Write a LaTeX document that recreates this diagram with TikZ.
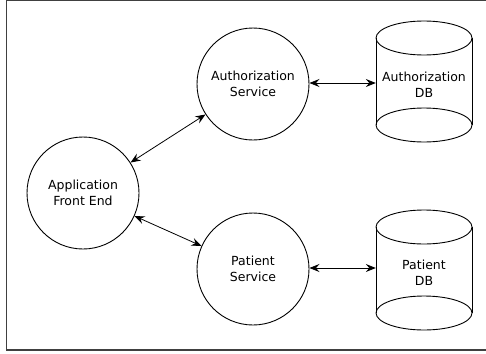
\documentclass[tikz,border=0pt]{standalone}
\usepackage{fontspec}
\setmainfont{DejaVu Sans}
\usetikzlibrary{arrows.meta}
\begin{document}
\begin{tikzpicture}[x=1pt,y=-1pt,
  lbl/.style={align=center,inner sep=0pt,font=\fontsize{12.5}{16}\selectfont},
  svc/.style={circle,draw,line width=0.9pt,minimum size=112pt,inner sep=0pt,lbl},
  dbanchor/.style={rectangle,minimum width=96pt,minimum height=87pt,inner sep=0pt},
  tip/.style={Stealth[length=10pt,width=8pt,inset=3.5pt]},
  link/.style={line width=0.8pt,{Stealth[length=10pt,width=8pt,inset=3.5pt]}-{Stealth[length=10pt,width=8pt,inset=3.5pt]}},
  cyl/.style={line width=0.9pt}]
\useasboundingbox (0,0) rectangle (486,353);
\begin{scope}
\clip (0,0) rectangle (486,353);
\draw[line width=1.6pt,draw=black!75] (6.5,0.5) rectangle (495,350);
\end{scope}
% nodes
\node[svc] (fe) at (83,193) {Application\\Front End};
\node[svc] (auth) at (253,84) {Authorization\\Service};
\node[svc] (pat) at (253,269) {Patient\\Service};
% cylinders
\draw[cyl] (376,38) -- (376,125) (472,38) -- (472,125);
\draw[cyl] (424,38) ellipse [x radius=48, y radius=17];
\draw[cyl] (424,125) ellipse [x radius=48, y radius=17];
\node[dbanchor] (adb) at (424,83) {};
\node[lbl] (adbtext) at (424,85) {Authorization\\DB};
\draw[cyl] (376,227) -- (376,313) (472,227) -- (472,313);
\draw[cyl] (424,227) ellipse [x radius=48, y radius=17];
\draw[cyl] (424,313) ellipse [x radius=48, y radius=17];
\node[dbanchor] (pdb) at (424,268) {};
\node[lbl] (pdbtext) at (424,273) {Patient\\DB};
% connectors
\draw[link] (fe) -- (auth);
\draw[link] (fe) -- (pat);
\draw[link] (auth.east |- adb.west) -- (adb.west);
\draw[link] (pat.east |- pdb.west) -- (pdb.west);
\end{tikzpicture}
\end{document}
